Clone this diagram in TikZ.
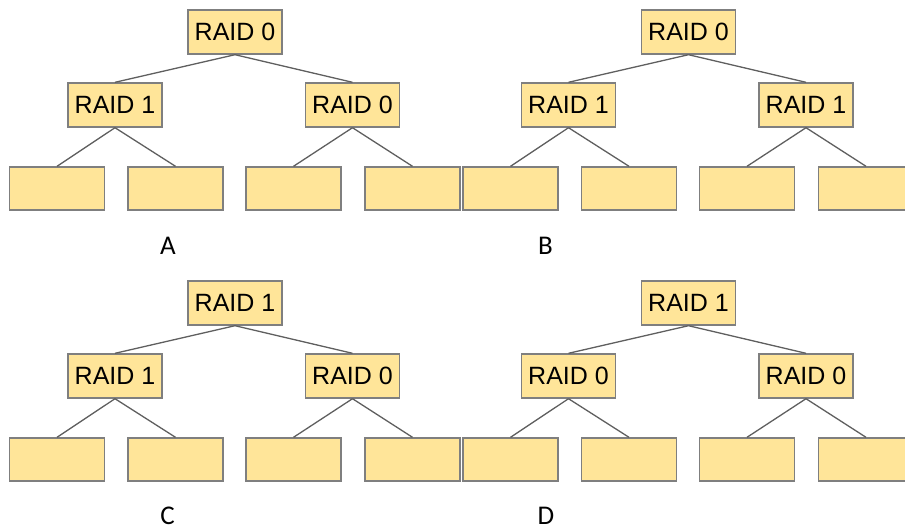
\documentclass[tikz,border=0pt]{standalone}
\usepackage{fontspec}
\setmainfont{Liberation Sans}
\newfontfamily\labelfont{Carlito}
\definecolor{boxfill}{HTML}{FFE599}
\definecolor{boxline}{HTML}{7F7F7F}
\definecolor{edgeline}{HTML}{5F5F5F}
\tikzset{
  raidbox/.style={draw=boxline, fill=boxfill, line width=1.4pt, minimum width=94pt, minimum height=44pt, inner sep=0pt, font=\fontsize{25}{28}\selectfont},
  diskbox/.style={draw=boxline, fill=boxfill, line width=1.4pt, minimum width=95pt, minimum height=43pt, inner sep=0pt},
  edge/.style={draw=edgeline, line width=1.3pt},
  panellabel/.style={font=\labelfont\fontsize{27}{30}\selectfont, inner sep=0pt}
}
\newcommand{\raidtree}[6]{%
  % #1 prefix, #2 ox, #3 oy, #4 root, #5 mid left, #6 mid right
  \node[raidbox] (#1r) at (#2+235,#3+32) {RAID #4};
  \node[raidbox] (#1ml) at (#2+115,#3+105) {RAID #5};
  \node[raidbox] (#1mr) at (#2+352.5,#3+105) {RAID #6};
  \node[diskbox] (#1d1) at (#2+57,#3+188.5) {};
  \node[diskbox] (#1d2) at (#2+175.5,#3+188.5) {};
  \node[diskbox] (#1d3) at (#2+293.5,#3+188.5) {};
  \node[diskbox] (#1d4) at (#2+412.5,#3+188.5) {};
  \draw[edge] (#1r.south) -- (#1ml.north);
  \draw[edge] (#1r.south) -- (#1mr.north);
  \draw[edge] (#1ml.south) -- (#1d1.north);
  \draw[edge] (#1ml.south) -- (#1d2.north);
  \draw[edge] (#1mr.south) -- (#1d3.north);
  \draw[edge] (#1mr.south) -- (#1d4.north);
}
\begin{document}
\begin{tikzpicture}[x=1pt,y=-1pt]
\useasboundingbox (0,0) rectangle (905,528);
\raidtree{a}{0}{0}{0}{1}{0}
\raidtree{b}{453.5}{0}{0}{1}{1}
\raidtree{c}{0}{271}{1}{1}{0}
\raidtree{d}{453.5}{271}{1}{0}{0}
\node[panellabel] (la) at (168,246) {A};
\node[panellabel] (lb) at (545.5,246) {B};
\node[panellabel] (lc) at (167.5,516) {C};
\node[panellabel] (ld) at (546,516) {D};
\end{tikzpicture}
\end{document}
